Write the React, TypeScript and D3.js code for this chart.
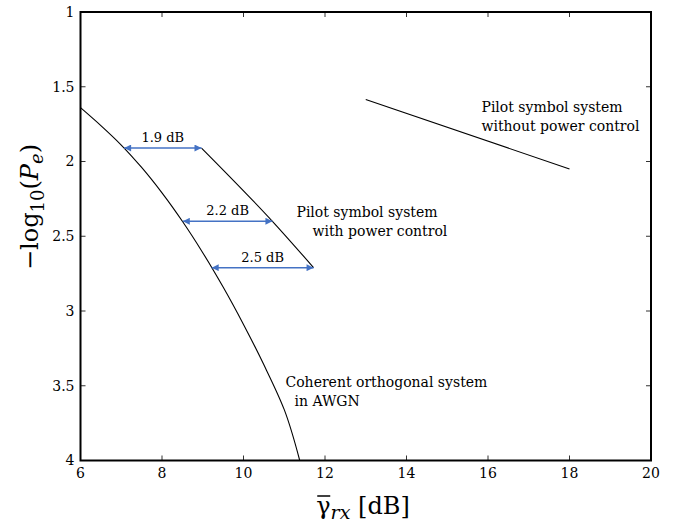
import React, { useEffect, useRef } from "react";
import * as d3 from "d3";

// coherent orthogonal system in AWGN: [gamma dB, -log10(Pe)]
const awgnCurve: [number, number][] = [
  [6, 1.64], [6.5, 1.76], [7, 1.89], [7.5, 2.04], [8, 2.21], [8.5, 2.4],
  [9, 2.61], [9.5, 2.84], [10, 3.09], [10.5, 3.36], [11, 3.66], [11.38, 4.0],
];
// pilot symbol system with power control
const pilotPcCurve: [number, number][] = [[8.97, 1.91], [10.71, 2.4], [11.72, 2.71]];
// pilot symbol system without power control
const pilotNoPcCurve: [number, number][] = [[13, 1.585], [18, 2.05]];

// gap arrows: level, left x, gap in dB
const gapLevels = [1.91, 2.4, 2.71];
const gapStarts = [7.07, 8.51, 9.22];
const gapValues = [1.9, 2.2, 2.5];

const xTicks = [6, 8, 10, 12, 14, 16, 18, 20];
const yTicks = [1, 1.5, 2, 2.5, 3, 3.5, 4];

const FONT = "DejaVu Serif, serif";
const BLUE = "#4472c4";

function draw(node: SVGSVGElement) {
  const svg = d3.select(node);
  svg.selectAll("*").remove();
  const margin = { left: 80.5, top: 12, right: 22, bottom: 61.5 };
  const width = 673 - margin.left - margin.right;
  const height = 522 - margin.top - margin.bottom;

  const x = d3.scaleLinear().domain([6, 20]).range([0, width]);
  const y = d3.scaleLinear().domain([1, 4]).range([0, height]);

  const defs = svg.append("defs");
  defs.append("marker")
    .attr("id", "arr")
    .attr("viewBox", "0 0 10 10")
    .attr("refX", 10).attr("refY", 5)
    .attr("markerWidth", 10).attr("markerHeight", 7)
    .attr("markerUnits", "userSpaceOnUse")
    .attr("orient", "auto-start-reverse")
    .append("path").attr("d", "M0,0L10,5L0,10Z").attr("fill", BLUE);

  const g = svg.append("g").attr("transform", `translate(${margin.left},${margin.top})`);

  // ticks on all four sides, pointing inward
  const tk = 5;
  xTicks.slice(1, -1).forEach(t => {
    g.append("line").attr("x1", x(t)).attr("x2", x(t)).attr("y1", height).attr("y2", height - tk).attr("stroke", "#333");
    g.append("line").attr("x1", x(t)).attr("x2", x(t)).attr("y1", 0).attr("y2", tk).attr("stroke", "#333");
  });
  yTicks.slice(1, -1).forEach(t => {
    g.append("line").attr("y1", y(t)).attr("y2", y(t)).attr("x1", 0).attr("x2", tk).attr("stroke", "#333");
    g.append("line").attr("y1", y(t)).attr("y2", y(t)).attr("x1", width).attr("x2", width - tk).attr("stroke", "#333");
  });

  g.append("rect").attr("width", width).attr("height", height)
    .attr("fill", "none").attr("stroke", "#000").attr("stroke-width", 2);

  g.selectAll(".xt").data(xTicks).enter().append("text")
    .attr("x", d => x(d)).attr("y", height + 17)
    .attr("text-anchor", "middle")
    .style("font-family", FONT).style("font-size", "14px")
    .text(d => d);

  g.selectAll(".yt").data(yTicks).enter().append("text")
    .attr("x", -6).attr("y", d => y(d)).attr("dy", "0.35em")
    .attr("text-anchor", "end")
    .style("font-family", FONT).style("font-size", "14px")
    .text(d => d);

  const line = d3.line<[number, number]>().x(d => x(d[0])).y(d => y(d[1]));
  const curve = d3.line<[number, number]>().x(d => x(d[0])).y(d => y(d[1])).curve(d3.curveMonotoneY);

  g.append("path").attr("d", curve(awgnCurve)).attr("fill", "none").attr("stroke", "#000").attr("stroke-width", 1.1);
  g.append("path").attr("d", curve(pilotPcCurve)).attr("fill", "none").attr("stroke", "#000").attr("stroke-width", 1.1);
  g.append("path").attr("d", line(pilotNoPcCurve)).attr("fill", "none").attr("stroke", "#000").attr("stroke-width", 1.1);

  gapLevels.forEach((lv, i) => {
    const x0 = gapStarts[i], x1 = gapStarts[i] + gapValues[i];
    g.append("line")
      .attr("x1", x(x0)).attr("x2", x(x1)).attr("y1", y(lv)).attr("y2", y(lv))
      .attr("stroke", BLUE).attr("stroke-width", 1.5)
      .attr("marker-start", "url(#arr)").attr("marker-end", "url(#arr)");
    g.append("text")
      .attr("x", (x(x0) + x(x1)) / 2).attr("y", y(lv) - 6)
      .attr("text-anchor", "middle")
      .style("font-family", FONT).style("font-size", "13px")
      .text(`${gapValues[i].toFixed(1)} dB`);
  });

  const label = (lines: [string, number][], lx: number, ly: number) => {
    lines.forEach(([s, dx], i) => {
      g.append("text")
        .attr("x", x(lx) + dx).attr("y", y(ly) + i * 19)
        .style("font-family", FONT).style("font-size", "14px")
        .text(s);
    });
  };
  label([["Pilot symbol system", 0], ["without power control", 0]], 15.84, 1.67);
  label([["Pilot symbol system", 0], ["with power control", 16]], 11.3, 2.37);
  label([["Coherent orthogonal system", 0], ["in AWGN", 9]], 11.03, 3.51);

  // axis titles
  const xt = svg.append("text")
    .attr("x", 363).attr("y", 514)
    .attr("text-anchor", "middle")
    .style("font-family", FONT).style("font-size", "24px");
  xt.append("tspan").text("γ");
  xt.append("tspan").attr("dy", 5).style("font-style", "italic").style("font-size", "19px").text("rx");
  xt.append("tspan").attr("dy", -5).text(" [dB]");
  // bar over gamma
  const bb = (xt.node() as SVGTextElement).getBBox();
  svg.append("line")
    .attr("x1", bb.x + 1).attr("x2", bb.x + 14)
    .attr("y1", 496).attr("y2", 496)
    .attr("stroke", "#000").attr("stroke-width", 1.5);

  const yt = svg.append("text")
    .attr("transform", "translate(38,207) rotate(-90)")
    .attr("text-anchor", "middle")
    .style("font-family", FONT).style("font-size", "24px");
  yt.append("tspan").text("−log");
  yt.append("tspan").attr("dy", 6).style("font-size", "18px").text("10");
  yt.append("tspan").attr("dy", -6).text("(");
  yt.append("tspan").style("font-style", "italic").text("P");
  yt.append("tspan").attr("dy", 5).style("font-style", "italic").style("font-size", "18px").text("e");
  yt.append("tspan").attr("dy", -5).text(")");
}

export default function App() {
  const ref = useRef<SVGSVGElement>(null);
  useEffect(() => {
    if (ref.current) draw(ref.current);
  }, []);
  return (
    <svg ref={ref} width={673} height={522}
      style={{ position: "absolute", left: 0, top: 0, background: "#fff" }} />
  );
}
